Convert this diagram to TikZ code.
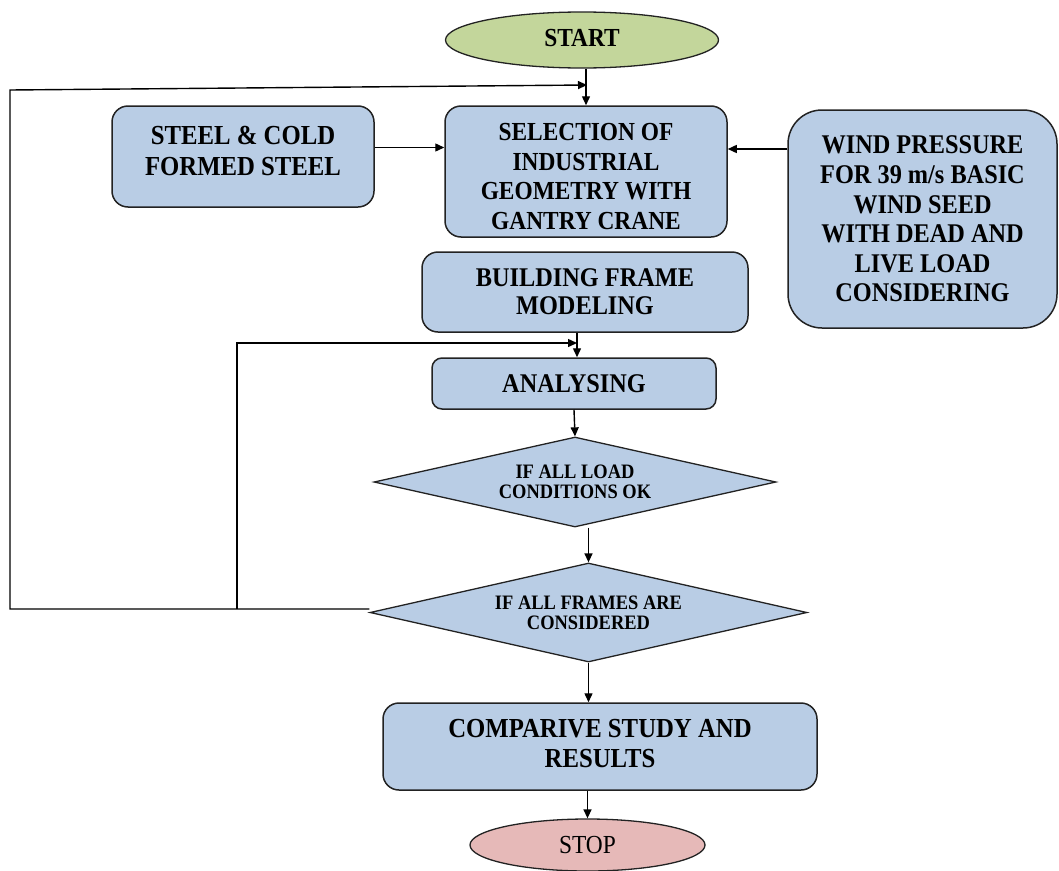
\documentclass[tikz,border=0pt]{standalone}
\usepackage{fontspec}
\setmainfont{Liberation Serif}[FakeStretch=0.9]
\usetikzlibrary{shapes.geometric,arrows.meta}
\definecolor{boxblue}{HTML}{B9CDE5}
\definecolor{startgreen}{HTML}{C3D69B}
\definecolor{stoppink}{HTML}{E6B9B8}
\definecolor{edgec}{HTML}{222222}
\begin{document}
\begin{tikzpicture}[x=1pt,y=-1pt,
  box/.style={draw=edgec, line width=1.5pt, fill=boxblue, rounded corners=16pt, align=center, inner sep=0pt},
  dia/.style={draw=edgec, line width=1.3pt, fill=boxblue, shape=diamond, align=center, inner sep=0pt},
  oval/.style={draw=edgec, line width=1.3pt, shape=ellipse, align=center, inner sep=0pt},
  arr/.style={line width=1.4pt, draw=black, -{Triangle[length=9pt,width=8pt]}},
  txt/.style={align=center, inner sep=0pt}
]
\useasboundingbox (0,0) rectangle (1059,870);

\node[oval, fill=startgreen, minimum width=273pt, minimum height=56pt,
  label={[txt, yshift=2pt, font=\fontsize{26}{29}\selectfont\bfseries]center:START}] (start) at (582,40) {};

\node[box, minimum width=282pt, minimum height=131pt,
  label={[txt, yshift=-5pt, font=\fontsize{26}{29.5}\selectfont\bfseries]center:{SELECTION OF\\INDUSTRIAL\\GEOMETRY WITH\\GANTRY CRANE}}] (sel) at (586,171.5) {};

\node[box, minimum width=262pt, minimum height=101pt,
  label={[txt, yshift=6pt, font=\fontsize{27.5}{31}\selectfont\bfseries]center:{STEEL \& COLD\\FORMED STEEL}}] (steel) at (243,156.5) {};

\node[box, rounded corners=34pt, minimum width=269pt, minimum height=218pt,
  font=\fontsize{27}{29.6}\selectfont\bfseries] (wind) at (922.5,219)
  {WIND PRESSURE\\FOR 39 m/s BASIC\\WIND SEED\\WITH DEAD AND\\LIVE LOAD\\CONSIDERING};

\node[box, minimum width=326pt, minimum height=80pt,
  font=\fontsize{27}{28}\selectfont\bfseries] (bfm) at (585,292)
  {BUILDING FRAME\\MODELING};

\node[box, rounded corners=10pt, minimum width=284pt, minimum height=51pt,
  font=\fontsize{27}{28}\selectfont\bfseries] (ana) at (574,383.5) {ANALYSING};

\node[dia, aspect=4.47, minimum width=402pt, minimum height=90pt,
  font=\fontsize{20.5}{20}\selectfont\bfseries] (d1) at (575,482)
  {IF ALL LOAD\\CONDITIONS OK};

\node[dia, aspect=4.41, minimum width=437pt, minimum height=99pt,
  font=\fontsize{20.5}{20}\selectfont\bfseries] (d2) at (588.5,612.5)
  {IF ALL FRAMES ARE\\CONSIDERED};

\node[box, minimum width=434pt, minimum height=87pt,
  label={[txt, yshift=3pt, font=\fontsize{27.5}{30}\selectfont\bfseries]center:{COMPARIVE STUDY AND\\RESULTS}}] (comp) at (600,746.5) {};

\node[oval, fill=stoppink, minimum width=235pt, minimum height=52pt,
  font=\fontsize{26}{29}\selectfont] (stop) at (587.5,845) {STOP};

% feedback coordinates
\coordinate (topin) at (587,85);
\coordinate (midin) at (577,343);
\coordinate (split) at (237,609);
\coordinate (far) at (10,609);
\coordinate (farup) at (10,90);

% main flow
\draw[arr] (start.south -| sel.north) -- (sel.north);
\draw[arr] ([yshift=9pt]steel.east) -- ([yshift=9pt]steel.east -| sel.west);
\draw[arr] ([yshift=70pt]wind.west) -- ([yshift=70pt]wind.west -| sel.east);
\draw[arr] (bfm.south -| midin) -- (midin |- ana.north);
\draw[arr] (ana.south) -- (d1.north);
\draw[arr] (d1.south -| d2.north) -- (d2.north);
\draw[arr] (d2.south) -- (d2.south |- comp.north);
\draw[arr] (comp.south -| stop.north) -- (stop.north);

% loops
\draw[arr] (d2.west |- far) -- (far) -- (farup) -- (topin);
\draw[arr] (split) |- (midin);
\end{tikzpicture}
\end{document}
